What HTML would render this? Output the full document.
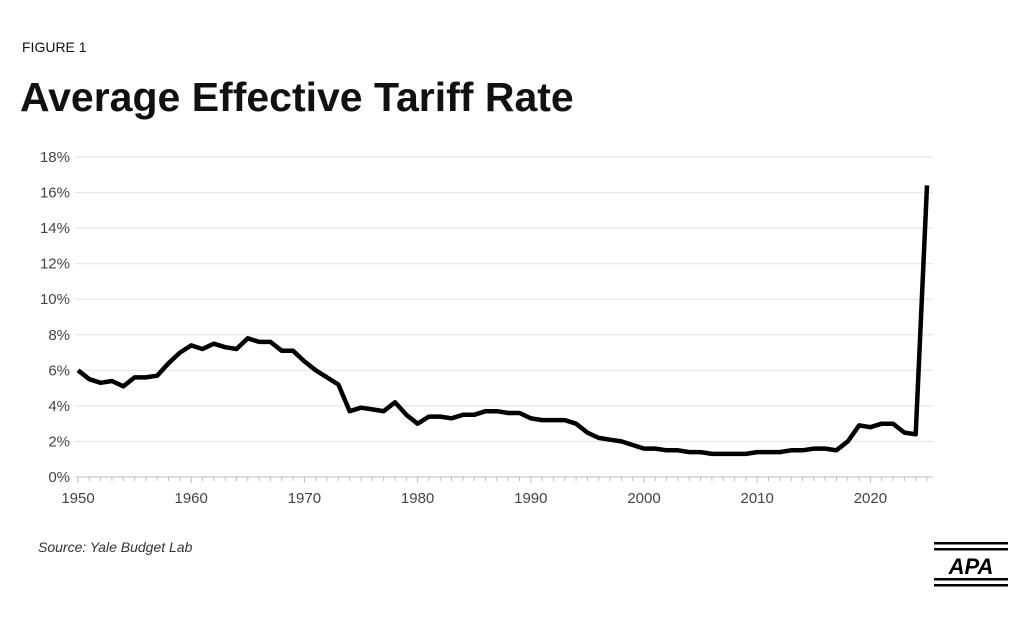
<!DOCTYPE html>
<html><head><meta charset="utf-8"><style>
body{margin:0;width:1026px;height:618px;background:#fff;overflow:hidden;font-family:"Liberation Sans",sans-serif}
</style></head><body>
<svg width="1026" height="618" xmlns="http://www.w3.org/2000/svg">
<text x="22" y="52" font-size="14" fill="#111">FIGURE 1</text>
<text x="20" y="111" font-size="41" font-weight="bold" fill="#111">Average Effective Tariff Rate</text>
<g id="grid"></g><g id="yticks"></g><g id="xticks"></g>
<path id="line" fill="none" stroke="#000" stroke-width="4.5" stroke-linejoin="round"/>
<text x="38" y="552" font-size="14" font-style="italic" fill="#333">Source: Yale Budget Lab</text>
<g>
<rect x="934" y="542" width="74" height="2.5" fill="#000"/><rect x="934" y="548" width="74" height="2.5" fill="#000"/>
<text x="971" y="574" font-size="22" font-weight="bold" font-style="italic" text-anchor="middle" fill="#000">APA</text>
<rect x="934" y="578" width="74" height="2.5" fill="#000"/><rect x="934" y="584" width="74" height="2.5" fill="#000"/>
</g>
</svg>
<script>
const years=[];for(let y=1950;y<=2025;y++)years.push(y);
const rates=[6.0,5.5,5.3,5.4,5.1,5.6,5.6,5.7,6.4,7.0,7.4,7.2,7.5,7.3,7.2,7.8,7.6,7.6,7.1,7.1,6.5,6.0,5.6,5.2,3.7,3.9,3.8,3.7,4.2,3.5,3.0,3.4,3.4,3.3,3.5,3.5,3.7,3.7,3.6,3.6,3.3,3.2,3.2,3.2,3.0,2.5,2.2,2.1,2.0,1.8,1.6,1.6,1.5,1.5,1.4,1.4,1.3,1.3,1.3,1.3,1.4,1.4,1.4,1.5,1.5,1.6,1.6,1.5,2.0,2.9,2.8,3.0,3.0,2.5,2.4,16.4];
const yTicks=[0,2,4,6,8,10,12,14,16,18];
const xTicks=[1950,1960,1970,1980,1990,2000,2010,2020];
const NS="http://www.w3.org/2000/svg";
const xs=y=>78+(y-1950)*(927-78)/75;
const ys=v=>477-v*(477-157)/18;
const grid=document.getElementById('grid'),yt=document.getElementById('yticks'),xt=document.getElementById('xticks');
yTicks.forEach(v=>{
 const l=document.createElementNS(NS,'line');
 l.setAttribute('x1',75);l.setAttribute('x2',933);l.setAttribute('y1',ys(v));l.setAttribute('y2',ys(v));
 l.setAttribute('stroke',v===0?'#ccc':'#e6e6e6');l.setAttribute('stroke-width',1.2);
 
 
 grid.appendChild(l);
 const t=document.createElementNS(NS,'text');
 t.setAttribute('x',70);t.setAttribute('y',ys(v)+5);t.setAttribute('text-anchor','end');t.setAttribute('font-size',15);t.setAttribute('fill','#444');
 t.textContent=v+'%';
 
 
 yt.appendChild(t);
});
years.forEach(y=>{
 const l=document.createElementNS(NS,'line');
 l.setAttribute('x1',xs(y));l.setAttribute('x2',xs(y));l.setAttribute('y1',477);l.setAttribute('y2',y%10===0?483:481);
 l.setAttribute('stroke','#bbb');
 
 
 xt.appendChild(l);
});
xTicks.forEach(y=>{
 const t=document.createElementNS(NS,'text');
 t.setAttribute('x',xs(y));t.setAttribute('y',503);t.setAttribute('text-anchor','middle');t.setAttribute('font-size',15);t.setAttribute('fill','#444');
 t.textContent=y;
 
 
 xt.appendChild(t);
});
document.getElementById('line').setAttribute('d',rates.map((v,i)=>(i?'L':'M')+xs(years[i]).toFixed(1)+','+ys(v).toFixed(1)).join(''));
</script>
</body></html>
